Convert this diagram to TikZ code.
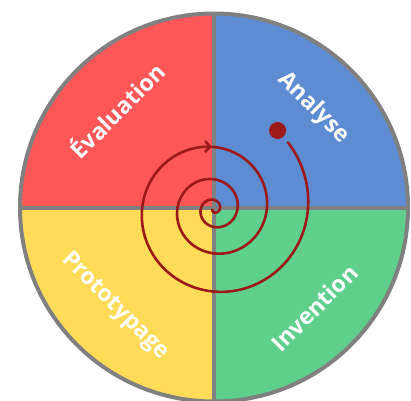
\documentclass[tikz,border=0pt]{standalone}
\usepackage{fontspec}
\setmainfont{Open Sans}
\usetikzlibrary{arrows.meta, calc}

\definecolor{evalred}{RGB}{255,87,87}
\definecolor{analyblue}{RGB}{94,140,210}
\definecolor{inventgreen}{RGB}{94,208,140}
\definecolor{protoyellow}{RGB}{255,219,88}
\definecolor{rimgray}{RGB}{128,128,128}
\definecolor{spiralred}{RGB}{155,25,25}

\begin{document}
\begin{tikzpicture}[
    x=1pt, y=1pt,
    rim/.style={line width=4pt, draw=rimgray},
    phase/.style={text=white, font=\bfseries\fontsize{23}{27}\selectfont},
    spiral/.style={line width=2.6pt, draw=spiralred, line cap=round}
]
    \useasboundingbox (0,0) rectangle (411,400);
    \coordinate (O) at (214,192.5);
    \def\R{194}

    % Quadrants
    \fill[evalred] (O) -- ++(180:\R) arc[start angle=180, end angle=90, radius=\R] -- cycle;
    \fill[analyblue] (O) -- ++(90:\R) arc[start angle=90, end angle=0, radius=\R] -- cycle;
    \fill[inventgreen] (O) -- ++(0:\R) arc[start angle=0, end angle=-90, radius=\R] -- cycle;
    \fill[protoyellow] (O) -- ++(-90:\R) arc[start angle=-90, end angle=-180, radius=\R] -- cycle;

    % Dividers and rim
    \draw[rim] ($(O)+(-\R,0)$) -- ($(O)+(\R,0)$);
    \draw[rim] ($(O)+(0,-\R)$) -- ($(O)+(0,\R)$);
    \draw[rim] (O) circle[radius=\R];

    % Labels
    \node[phase, rotate=45] (eval) at ($(O)+(135:138)$) {Évaluation};
    \node[phase, rotate=-45] (analyse) at ($(O)+(45:141)$) {Analyse};
    \node[phase, rotate=-45] (proto) at ($(O)+(225:140)$) {Prototypage};
    \node[phase, rotate=45] (invent) at ($(O)+(315:142)$) {Invention};

    % Spiral
    \begin{scope}[shift={(214,191)}]
        \draw[spiral, -{Straight Barb[length=5pt, width=11pt]}]
            plot[domain=1482:1172, samples=60, smooth] ({\x}:{0.367*(\x/90)^2});
        \draw[spiral]
            plot[domain=1172:200, samples=160, smooth] ({\x}:{0.367*(\x/90)^2});
        \fill[spiralred] (1491:101) circle[radius=8.5];
    \end{scope}

\end{tikzpicture}
\end{document}
